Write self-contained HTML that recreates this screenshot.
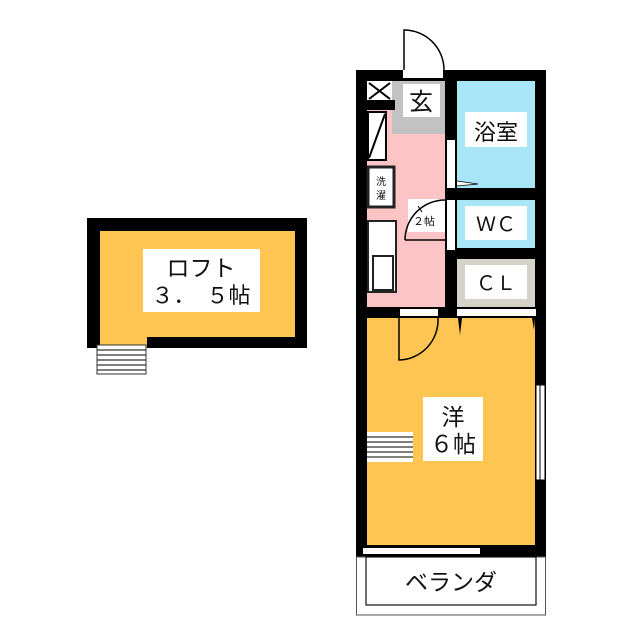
<!DOCTYPE html>
<html><head><meta charset="utf-8"><style>
html,body{margin:0;padding:0;background:#fff;}
svg{display:block}
text{font-family:"Liberation Sans","Noto Sans CJK JP",sans-serif;fill:#111}
</style></head><body>
<svg width="640" height="640" viewBox="0 0 640 640" xmlns="http://www.w3.org/2000/svg">
<!-- LOFT -->
<rect x="87" y="218" width="220" height="130" fill="#000"/>
<rect x="100" y="231" width="195" height="106" fill="#fec553"/>
<rect x="100" y="330" width="47" height="18" fill="#fec553"/>
<rect x="97" y="345" width="49" height="29" fill="#fff" stroke="#333" stroke-width="1"/>
<g stroke="#333" stroke-width="1.2">
<line x1="97" y1="350" x2="146" y2="350"/><line x1="97" y1="355" x2="146" y2="355"/>
<line x1="97" y1="360" x2="146" y2="360"/><line x1="97" y1="365" x2="146" y2="365"/>
<line x1="97" y1="370" x2="146" y2="370"/></g>
<rect x="143" y="249" width="117" height="63" fill="#fff"/>
<text x="201" y="276" font-size="23" text-anchor="middle">ロフト</text>
<text x="201" y="303" font-size="22" text-anchor="middle">３．　５帖</text>

<!-- MAIN outer -->
<rect x="356" y="70" width="190" height="487" fill="#000"/>
<!-- kitchen -->
<rect x="367" y="81" width="78" height="226" fill="#fdc4c6"/>
<rect x="392" y="81" width="53" height="53" fill="#c2c2c2"/>
<rect x="403" y="84" width="37" height="33" fill="#fff"/>
<text x="421" y="110" font-size="24" text-anchor="middle">玄</text>
<rect x="367" y="81" width="25" height="19" fill="#fff"/>
<path d="M369 83 L390 99 M390 83 L369 99" stroke="#000" stroke-width="2"/>
<rect x="367" y="100" width="28" height="10" fill="#000"/>
<rect x="368" y="112" width="18" height="48" fill="#fff" stroke="#000" stroke-width="2"/>
<line x1="369" y1="158" x2="385" y2="114" stroke="#000" stroke-width="2"/>
<rect x="368" y="167" width="26" height="40" fill="#fff" stroke="#222" stroke-width="3"/>
<text x="381" y="185" font-size="10" text-anchor="middle">洗</text>
<text x="381" y="199" font-size="10" text-anchor="middle">濯</text>
<rect x="368" y="221" width="28" height="71" fill="#fff" stroke="#222" stroke-width="2"/>
<rect x="373" y="256" width="20" height="34" fill="#fff" stroke="#222" stroke-width="2"/>
<rect x="408" y="199" width="37" height="33" fill="#fff"/>
<path d="M405 240 L445 240 M405 240 A40 40 0 0 1 445 200" fill="none" stroke="#000" stroke-width="1.5"/>
<path d="M418 206 L422 212" stroke="#000" stroke-width="1"/>
<text x="424" y="225" font-size="11" text-anchor="middle">２帖</text>
<!-- bath -->
<rect x="457" y="81" width="78" height="107" fill="#a8e5f7"/>
<rect x="465" y="112" width="62" height="35" fill="#fff"/>
<text x="496" y="140" font-size="22" text-anchor="middle">浴室</text>
<rect x="447" y="140" width="8" height="48" fill="#fff"/>
<path d="M457 181 L478 184 L457 186" fill="#fff" stroke="#000" stroke-width="0.8"/>
<!-- WC -->
<rect x="457" y="200" width="78" height="48" fill="#a8e5f7"/>
<rect x="465" y="206" width="62" height="34" fill="#fff"/>
<text x="496" y="231" font-size="20" text-anchor="middle">ＷＣ</text>
<rect x="447" y="200" width="8" height="50" fill="#fff"/>
<!-- CL -->
<rect x="457" y="259" width="78" height="48" fill="#d5d3c7"/>
<rect x="465" y="265" width="62" height="34" fill="#fff"/>
<text x="496" y="290" font-size="20" text-anchor="middle">ＣＬ</text>
<!-- yo room -->
<rect x="367" y="318" width="168" height="227" fill="#fec553"/>
<rect x="400" y="309" width="38" height="7" fill="#fff"/>
<rect x="457" y="309" width="79" height="7" fill="#fff"/>
<path d="M399 318 L399 360 A40 40 0 0 0 438 318" fill="none" stroke="#000" stroke-width="1.5"/>
<path d="M458 318 L460 335 L462 318 Z M532 318 L534 330 L535 318Z" fill="#000"/>
<rect x="536" y="385" width="9" height="95" fill="#fff" stroke="#000" stroke-width="1"/>
<line x1="540" y1="385" x2="540" y2="480" stroke="#000" stroke-width="1"/>
<rect x="367" y="432" width="46" height="30" fill="#fff"/>
<g stroke="#333" stroke-width="1.3">
<line x1="367" y1="437" x2="413" y2="437"/><line x1="367" y1="442" x2="413" y2="442"/>
<line x1="367" y1="447" x2="413" y2="447"/><line x1="367" y1="452" x2="413" y2="452"/>
<line x1="367" y1="457" x2="413" y2="457"/></g>
<rect x="423" y="397" width="60" height="64" fill="#fff"/>
<text x="453" y="425" font-size="23" text-anchor="middle">洋</text>
<text x="453" y="452" font-size="23" text-anchor="middle">６帖</text>
<rect x="363" y="548" width="117" height="6" fill="#fff"/>
<!-- entrance door -->
<rect x="403" y="70" width="40" height="8" fill="#fff"/>
<path d="M404 70 L404 30 A40 40 0 0 1 444 70" fill="none" stroke="#000" stroke-width="1.5"/>
<!-- veranda -->
<rect x="356.5" y="557" width="189" height="58" fill="#fff" stroke="#555" stroke-width="1"/>
<rect x="366" y="557" width="170" height="48" fill="#fff" stroke="#111" stroke-width="1.2"/>
<text x="451" y="590" font-size="23" text-anchor="middle">ベランダ</text>
</svg>
</body></html>
